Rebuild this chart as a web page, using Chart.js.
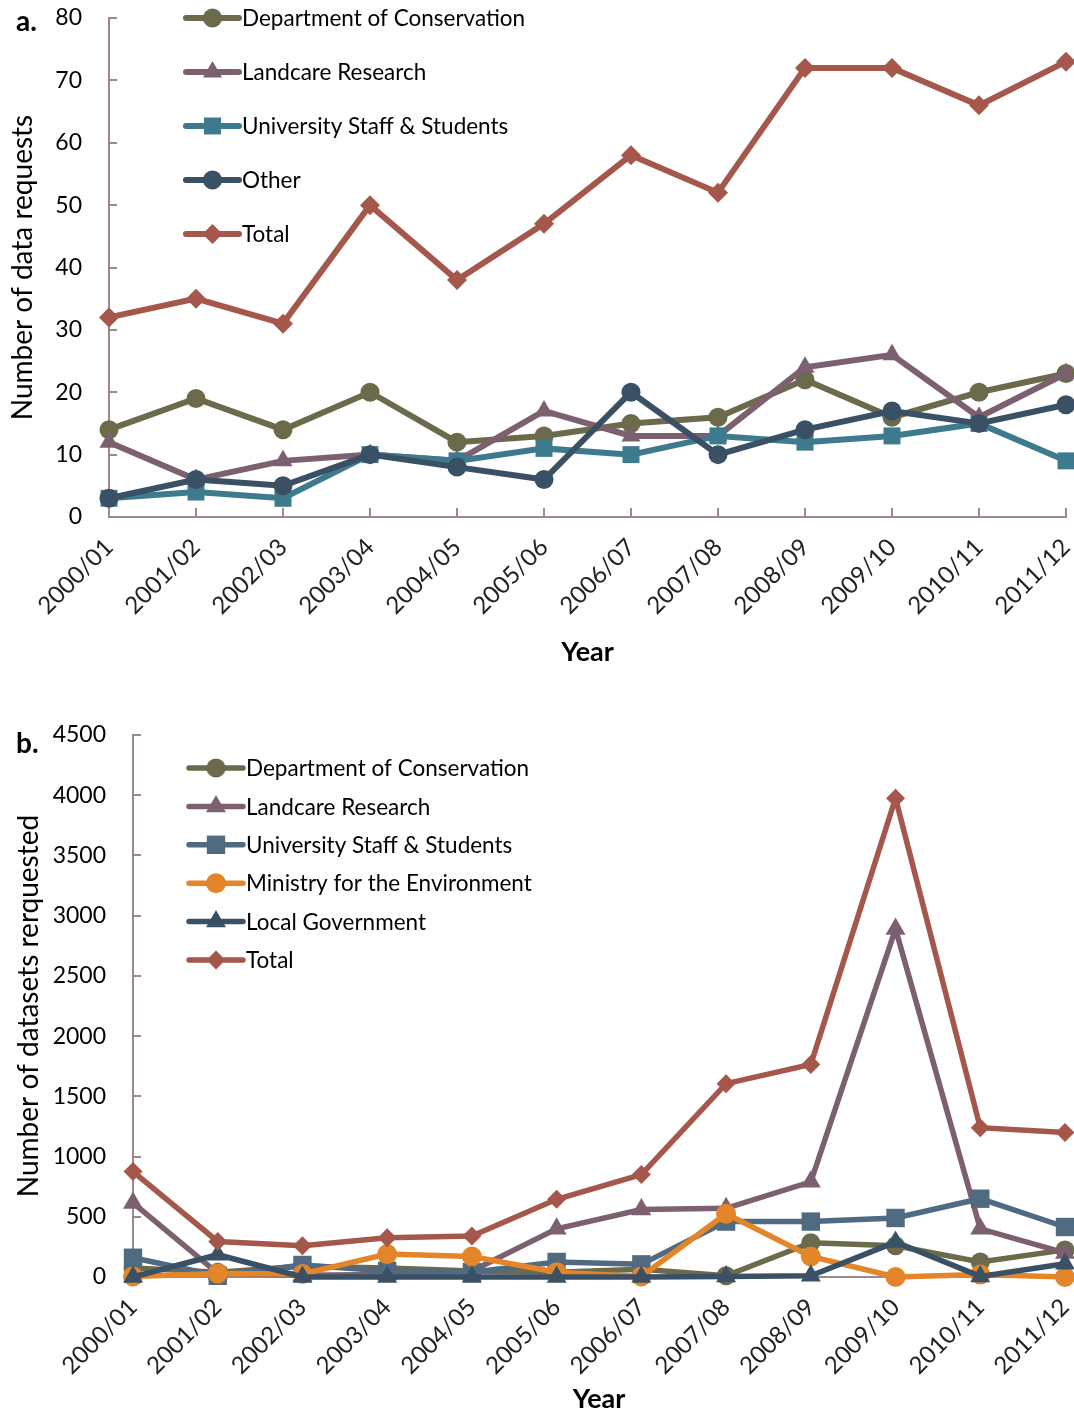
<!DOCTYPE html>
<html>
<head>
<meta charset="utf-8">
<script src="https://cdn.jsdelivr.net/npm/chart.js@4.4.1/dist/chart.umd.min.js"></script>
<style>
  html, body { margin: 0; padding: 0; background: #fff; }
  #wrap { position: relative; width: 1074px; height: 1412px; overflow: hidden; }
  #ca { position: absolute; left: 0; top: 0; }
  #cb { position: absolute; left: 0; top: 700px; }
  .panel { position: absolute; font: bold 28px Lato, sans-serif; color: #000; line-height: 1; }
</style>
</head>
<body>
<div id="wrap">
  <canvas id="ca"></canvas>
  <canvas id="cb"></canvas>
  <div class="panel" style="left:16px; top:6px;">a.</div>
  <div class="panel" style="left:16px; top:728px;">b.</div>
</div>
<script>
// ---- data ----
const years = ['2000/01','2001/02','2002/03','2003/04','2004/05','2005/06',
               '2006/07','2007/08','2008/09','2009/10','2010/11','2011/12'];

// (a) number of data requests
const reqDOC        = [14, 19, 14, 20, 12, 13, 15, 16, 22, 16, 20, 23];
const reqLandcare   = [12,  6,  9, 10,  9, 17, 13, 13, 24, 26, 16, 23];
const reqUniversity = [ 3,  4,  3, 10,  9, 11, 10, 13, 12, 13, 15,  9];
const reqOther      = [ 3,  6,  5, 10,  8,  6, 20, 10, 14, 17, 15, 18];
const reqTotal      = [32, 35, 31, 50, 38, 47, 58, 52, 72, 72, 66, 73];
const reqTicks      = [0, 10, 20, 30, 40, 50, 60, 70, 80];

// (b) number of datasets requested
const dsDOC        = [  75,  40,  90,  75,  50,  40,  65,   10,  285,  260,  125,  225];
const dsLandcare   = [ 615,  30,  15,  20,  50, 400, 560,  570,  790, 2890,  400,  200];
const dsUniversity = [ 160,  10, 100,  50,  40, 125, 105,  460,  460,  490,  650,  415];
const dsMfE        = [   5,  30,  25, 190, 170,  40,   5,  525,  170,    0,   20,    0];
const dsLocalGov   = [   0, 185,   0,   0,   0,   0,   0,    5,   10,  290,    5,  110];
const dsTotal      = [ 875, 295, 260, 325, 340, 645, 850, 1605, 1765, 3975, 1240, 1200];
const dsTicks      = [0, 500, 1000, 1500, 2000, 2500, 3000, 3500, 4000, 4500];

// ---- styling ----
const FONT = 'Lato, "Open Sans", sans-serif';
const AXIS = '#9b8b87';
const C = {
  doc: '#6b6a4b', landcare: '#7c6070', uniA: '#3e7a8e', uniB: '#506a82',
  other: '#3a5064', total: '#a4574a', mfe: '#e38528'
};

function series(label, data, color, style, radius, order, width) {
  return {
    label, data, order,
    borderColor: color, backgroundColor: color,
    pointBackgroundColor: color, pointBorderColor: color,
    pointStyle: style, pointRadius: radius, pointHoverRadius: radius,
    pointBorderWidth: 0, borderWidth: width, tension: 0, clip: false
  };
}

// Inward tick marks on both axes
const innerTicks = {
  id: 'innerTicks',
  beforeDatasetsDraw(chart) {
    const { ctx, scales: { x, y } } = chart;
    ctx.save();
    ctx.strokeStyle = AXIS;
    ctx.lineWidth = 2;
    ctx.beginPath();
    y.ticks.forEach((t, i) => {
      const py = Math.round(y.getPixelForTick(i));
      ctx.moveTo(x.left, py); ctx.lineTo(x.left + 8, py);
    });
    x.ticks.forEach((t, i) => {
      const px = Math.round(x.getPixelForTick(i));
      ctx.moveTo(px, y.bottom); ctx.lineTo(px, y.bottom - 9);
    });
    ctx.stroke();
    ctx.restore();
  }
};

// Series key drawn inside the plot area
const seriesKey = {
  id: 'seriesKey',
  afterDraw(chart, args, o) {
    const ctx = chart.ctx;
    const list = chart.data.datasets;
    ctx.save();
    list.forEach((ds, i) => {
      const yy = o.y0 + i * o.dy;
      ctx.strokeStyle = ds.borderColor;
      ctx.lineWidth = ds.borderWidth;
      ctx.lineCap = 'round';
      ctx.beginPath();
      ctx.moveTo(o.x0, yy); ctx.lineTo(o.x1, yy);
      ctx.stroke();
      ctx.fillStyle = ds.pointBackgroundColor;
      Chart.helpers.drawPoint(ctx, { pointStyle: ds.pointStyle, radius: ds.pointRadius, borderWidth: 0, rotation: 0 }, (o.x0 + o.x1) / 2, yy);
      ctx.fillStyle = '#000';
      ctx.font = o.font;
      ctx.textBaseline = 'middle';
      ctx.textAlign = 'left';
      ctx.fillText(ds.label, o.x1 + 3, yy + 1);
    });
    ctx.restore();
  }
};

function makeChart(id, w, h, datasets, cfg) {
  const cv = document.getElementById(id);
  cv.width = w; cv.height = h;
  cv.style.width = w + 'px'; cv.style.height = h + 'px';
  return new Chart(cv, {
    type: 'line',
    data: { labels: years, datasets },
    plugins: [innerTicks, seriesKey],
    options: {
      responsive: false,
      animation: false,
      devicePixelRatio: 1,
      layout: { padding: { top: cfg.top, right: cfg.right, bottom: 0, left: 0 } },
      plugins: {
        legend: { display: false },
        tooltip: { enabled: false },
        seriesKey: cfg.key
      },
      scales: {
        x: {
          type: 'category',
          offset: false,
          grid: { display: false },
          border: { display: true, color: AXIS, width: 2 },
          ticks: {
            color: '#222', autoSkip: false, maxRotation: 45, minRotation: 45,
            padding: cfg.xTickPad, font: { family: FONT, size: 24 }
          },
          title: {
            display: true, text: 'Year', color: '#000',
            font: { family: FONT, size: 27, weight: 'bold' },
            padding: { top: 0, bottom: cfg.xTitlePad }
          },
          afterFit(s) {
            s.height = cfg.xHeight;
            s.paddingLeft = 0; s.paddingRight = 0;
          }
        },
        y: {
          min: 0, max: cfg.yMax,
          afterBuildTicks(s) { s.ticks = cfg.yTicks.map(v => ({ value: v })); },
          grid: { display: false },
          border: { display: true, color: AXIS, width: 2 },
          ticks: {
            color: '#000', padding: cfg.yTickPad,
            font: { family: FONT, size: 23 },
            callback: v => String(v)
          },
          title: {
            display: true, text: cfg.yTitle, color: '#000',
            font: { family: FONT, size: 28 }, padding: { top: cfg.yTitlePad, bottom: 0 }
          },
          afterFit(s) {
            s.width = cfg.yWidth;
            s.paddingTop = 0; s.paddingBottom = 0;
          }
        }
      }
    }
  });
}

// (a)
makeChart('ca', 1078, 700, [
  series('Department of Conservation', reqDOC,        C.doc,      'circle',  9.5, 4, 6),
  series('Landcare Research',          reqLandcare,   C.landcare, 'triangle',11, 3, 6),
  series('University Staff & Students',reqUniversity, C.uniA,     'rect',    12, 2, 6),
  series('Other',                      reqOther,      C.other,    'circle',  9.5, 1, 6),
  series('Total',                      reqTotal,      C.total,    'rectRot', 10, 0, 6)
], {
  top: 18, right: 0, yMax: 80, yTicks: reqTicks, yWidth: 109, yTickPad: 19, yTitlePad: 6,
  yTitle: 'Number of data requests', xHeight: 183, xTickPad: 8, xTitlePad: 32,
  key: { x0: 186, x1: 239, y0: 18, dy: 54, font: '22.5px ' + FONT }
});

// (b)
makeChart('cb', 1078, 712, [
  series('Department of Conservation',  dsDOC,        C.doc,      'circle',  9.5, 5, 5.5),
  series('Landcare Research',           dsLandcare,   C.landcare, 'triangle',11.5, 4, 5.5),
  series('University Staff & Students', dsUniversity, C.uniB,     'rect',    13, 3, 5.5),
  series('Ministry for the Environment',dsMfE,        C.mfe,      'circle',  10, 2, 5.5),
  series('Local Government',            dsLocalGov,   C.other,    'triangle',11.5, 1, 5.5),
  series('Total',                       dsTotal,      C.total,    'rectRot', 9.5, 0, 5.5)
], {
  top: 35, right: 0, yMax: 4500, yTicks: dsTicks, yWidth: 133, yTickPad: 19, yTitlePad: 12,
  yTitle: 'Number of datasets rerquested', xHeight: 135, xTickPad: 8, xTitlePad: -3,
  key: { x0: 189, x1: 243, y0: 68, dy: 38.4, font: '22.5px ' + FONT }
});
</script>
</body>
</html>
